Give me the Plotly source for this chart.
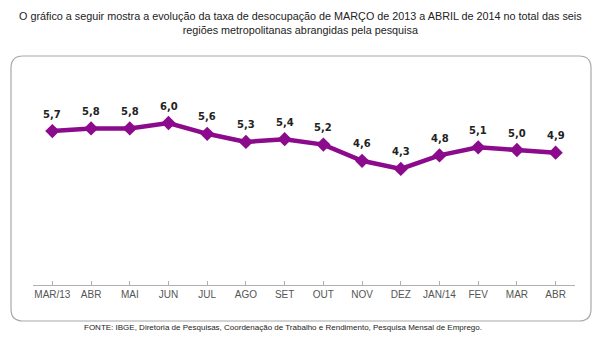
import plotly.graph_objects as go

months = ["MAR/13", "ABR", "MAI", "JUN", "JUL", "AGO", "SET", "OUT", "NOV", "DEZ", "JAN/14", "FEV", "MAR", "ABR"]
rates = [5.7, 5.8, 5.8, 6.0, 5.6, 5.3, 5.4, 5.2, 4.6, 4.3, 4.8, 5.1, 5.0, 4.9]

W, H = 599, 350
L, R, T, B = 33, 24, 96, 65
pw, ph = W - L - R, H - T - B

def px(x):
    return (x - L) / pw

def py(y):
    return 1 - (y - T) / ph

xs = list(range(len(months)))

fig = go.Figure()
fig.add_trace(go.Scatter(
    x=xs, y=rates, mode="lines+markers",
    line=dict(color="#8c0a8c", width=4.5),
    marker=dict(symbol="diamond", size=11, color="#8c0a8c"),
    hoverinfo="skip", showlegend=False,
))

for x, v in zip(xs, rates):
    fig.add_annotation(x=x, y=v, text=f"<b>{v:.1f}</b>".replace(".", ","),
                       showarrow=False, yshift=17,
                       font=dict(family="DejaVu Sans", size=10, color="#222"))

# rounded frame
x0, y0, x1, y1, r = 11, 56, 591, 321, 12
path = (f"M {px(x0+r)},{py(y0)} L {px(x1-r)},{py(y0)} "
        f"Q {px(x1)},{py(y0)} {px(x1)},{py(y0+r)} "
        f"L {px(x1)},{py(y1-r)} Q {px(x1)},{py(y1)} {px(x1-r)},{py(y1)} "
        f"L {px(x0+r)},{py(y1)} Q {px(x0)},{py(y1)} {px(x0)},{py(y1-r)} "
        f"L {px(x0)},{py(y0+r)} Q {px(x0)},{py(y0)} {px(x0+r)},{py(y0)} Z")
fig.add_shape(type="path", path=path, xref="paper", yref="paper",
              line=dict(color="#a8a8a8", width=1.2), layer="below")

fig.add_annotation(
    text="O gráfico a seguir mostra a evolução da taxa de desocupação de MARÇO de 2013 a ABRIL de 2014 no total das seis<br>regiões metropolitanas abrangidas pela pesquisa",
    xref="paper", yref="paper", x=px(300), y=py(23), xanchor="center", yanchor="middle",
    showarrow=False, align="center",
    font=dict(family="Liberation Sans", size=10.8, color="#222"))

fig.add_annotation(
    text="FONTE: IBGE, Diretoria de Pesquisas, Coordenação de Trabalho e Rendimento, Pesquisa Mensal de Emprego.",
    xref="paper", yref="paper", x=px(82), y=py(327), xanchor="left", yanchor="middle",
    showarrow=False,
    font=dict(family="Liberation Sans", size=8, color="#222"))

fig.update_layout(
    width=W, height=H,
    margin=dict(l=L, r=R, t=T, b=B),
    paper_bgcolor="white", plot_bgcolor="white",
    xaxis=dict(
        range=[-0.5, len(months) - 0.5], tickmode="array", tickvals=xs, ticktext=months,
        showline=True, linecolor="#b0b0b0", linewidth=1,
        ticks="inside", ticklen=4, tickcolor="#b0b0b0", tickson="boundaries",
        showgrid=False, zeroline=False, automargin=False,
        tickfont=dict(family="Liberation Sans", size=10, color="#555"),
    ),
    yaxis=dict(range=[0, 7], visible=False, showgrid=False, zeroline=False),
)

fig.write_html("out.html")
